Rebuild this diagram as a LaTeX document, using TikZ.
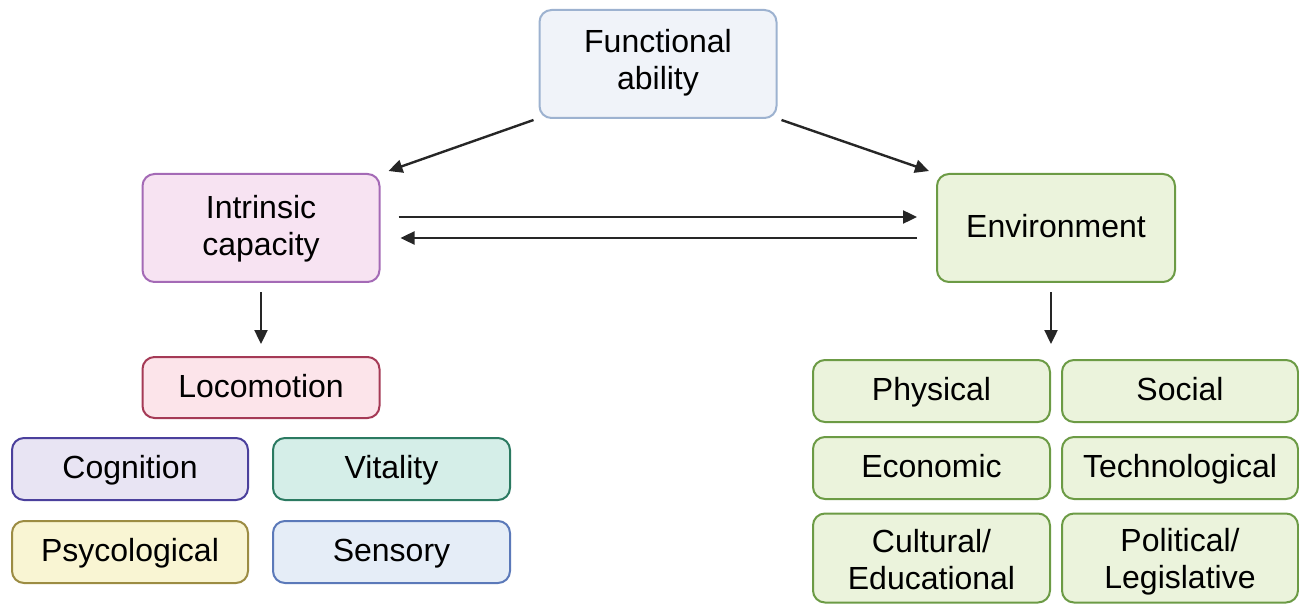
\documentclass[tikz,border=0pt]{standalone}
\usepackage{fontspec}
\setmainfont{Liberation Sans}
\usetikzlibrary{arrows.meta}
\definecolor{faF}{HTML}{F0F3F9}\definecolor{faD}{HTML}{9DB2D0}
\definecolor{icF}{HTML}{F7E3F2}\definecolor{icD}{HTML}{A46AB6}
\definecolor{enF}{HTML}{EBF3DC}\definecolor{enD}{HTML}{6C9B45}
\definecolor{loF}{HTML}{FCE4EA}\definecolor{loD}{HTML}{A53A56}
\definecolor{coF}{HTML}{E8E4F3}\definecolor{coD}{HTML}{4B409C}
\definecolor{viF}{HTML}{D5EEE8}\definecolor{viD}{HTML}{2B7A61}
\definecolor{psF}{HTML}{F9F5D3}\definecolor{psD}{HTML}{9C8C43}
\definecolor{seF}{HTML}{E5EDF7}\definecolor{seD}{HTML}{5B79B9}
\newcommand\sstr{\rule[-7pt]{0pt}{33pt}}
\newcommand\topstr{\rule{0pt}{30pt}}
\newcommand\botstr[1]{\rule[-#1pt]{0pt}{#1pt}}
\tikzset{
  box/.style={draw, line width=2pt, rounded corners=12pt, inner sep=0pt, align=center,
    font=\fontsize{32}{37}\selectfont, text=black},
  arr/.style={line width=2.4pt, -{Triangle[length=14pt,width=13pt]}, black!85}
}
\begin{document}
\begin{tikzpicture}[x=1pt,y=-1pt]
\useasboundingbox (0,0) rectangle (1299,604);
\node[box, fill=faF, draw=faD, minimum width=237pt, minimum height=108pt] (fa) at (658,64) {\topstr Functional\\ability\botstr{15}};
\node[box, fill=icF, draw=icD, minimum width=237pt, minimum height=108pt] (ic) at (261,228) {\topstr Intrinsic\\capacity\botstr{11}};
\node[box, fill=enF, draw=enD, minimum width=238pt, minimum height=108pt] (en) at (1056,228) {\sstr Environment};
\node[box, fill=loF, draw=loD, minimum width=237pt, minimum height=61pt] (lo) at (261,387.5) {\sstr Locomotion};
\node[box, fill=coF, draw=coD, minimum width=236pt, minimum height=62pt] (co) at (130,469) {\sstr Cognition};
\node[box, fill=viF, draw=viD, minimum width=237pt, minimum height=62pt] (vi) at (391.5,469) {\sstr Vitality};
\node[box, fill=psF, draw=psD, minimum width=236pt, minimum height=62pt] (ps) at (130,552) {\sstr Psycological};
\node[box, fill=seF, draw=seD, minimum width=237pt, minimum height=62pt] (se) at (391.5,552) {\sstr Sensory};
\node[box, fill=enF, draw=enD, minimum width=237pt, minimum height=62pt] (ph) at (931.5,391) {\sstr Physical};
\node[box, fill=enF, draw=enD, minimum width=236pt, minimum height=62pt] (so) at (1180,391) {\sstr Social};
\node[box, fill=enF, draw=enD, minimum width=237pt, minimum height=62pt] (ec) at (931.5,468) {\sstr Economic};
\node[box, fill=enF, draw=enD, minimum width=236pt, minimum height=62pt] (te) at (1180,468) {\sstr Technological};
\node[box, fill=enF, draw=enD, minimum width=237pt, minimum height=89pt] (cu) at (931.5,558) {\topstr Cultural/\\Educational\botstr{4}};
\node[box, fill=enF, draw=enD, minimum width=236pt, minimum height=89pt] (po) at (1180,558) {\topstr Political/\\Legislative\botstr{4}};
\draw[arr] ([xshift=-5pt,yshift=-1pt]fa.south west) -- ([xshift=8pt,yshift=2pt]ic.north east);
\draw[arr] ([xshift=4pt,yshift=-1pt]fa.south east) -- ([xshift=-7pt,yshift=2pt]en.north west);
\draw[arr] ([xshift=18pt,yshift=11pt]ic.east) -- ([xshift=-19pt,yshift=11pt]en.west);
\draw[arr] ([xshift=-19pt,yshift=-10pt]en.west) -- ([xshift=20pt,yshift=-10pt]ic.east);
\draw[arr] ([yshift=-9pt]ic.south) -- ([yshift=12pt]lo.north);
\draw[arr] ([xshift=-5pt,yshift=-9pt]en.south) -- ([xshift=-5pt,yshift=15pt]en.south |- ph.north);
\end{tikzpicture}
\end{document}
